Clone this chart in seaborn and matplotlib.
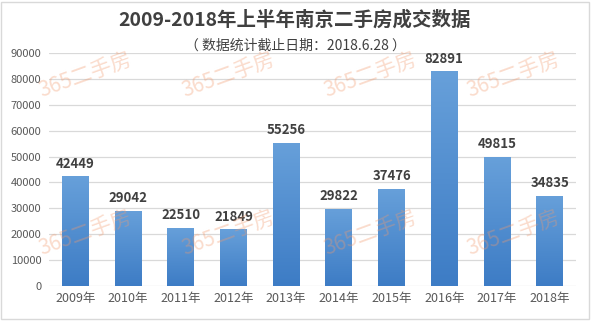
import numpy as np
import matplotlib
matplotlib.use("Agg")
import matplotlib.pyplot as plt
from matplotlib.patches import Rectangle
from matplotlib.colors import LinearSegmentedColormap
import seaborn as sns

# Data
years = ["2009年", "2010年", "2011年", "2012年", "2013年",
         "2014年", "2015年", "2016年", "2017年", "2018年"]
deals = [42449, 29042, 22510, 21849, 55256, 29822, 37476, 82891, 49815, 34835]
yticks = [0, 10000, 20000, 30000, 40000, 50000, 60000, 70000, 80000, 90000]

title = "2009-2018年上半年南京二手房成交数据"
subtitle = "（ 数据统计截止日期：2018.6.28 ）"
watermark = "365二手房"

sns.set_theme(style="white")
plt.rcParams["font.family"] = ["Noto Sans CJK SC", "DejaVu Sans"]

W, H = 591, 336
fig = plt.figure(figsize=(W / 100, H / 100), dpi=100)
fig.patch.set_facecolor("white")


def px(x, y):
    return x / W, 1 - y / H


# Plot area
left, right, top, bottom = 49, 576, 53, 286
ax = fig.add_axes([left / W, 1 - bottom / H, (right - left) / W, (bottom - top) / H])
ax.set_facecolor("none")

sns.barplot(x=years, y=deals, color="#4f8fd3", width=0.51, ax=ax, zorder=3)

ax.set_ylim(0, 90000)
ax.set_yticks(yticks)
ax.set_yticklabels([str(v) for v in yticks])
ax.set_xlim(-0.5, len(years) - 0.5)
for s in ax.spines.values():
    s.set_visible(False)
ax.yaxis.grid(True, color="#d9d9d9", lw=0.9, zorder=0)
ax.set_axisbelow(True)
ax.tick_params(axis="both", length=0, colors="#595959")
ax.tick_params(axis="y", labelsize=8, pad=5.5)
ax.tick_params(axis="x", labelsize=9, pad=4)
ax.set_xlabel("")
ax.set_ylabel("")

# Vertical gradient fill for each bar
cmap = LinearSegmentedColormap.from_list("barblue", ["#3d7cc5", "#67a0da"])
grad = np.linspace(0, 1, 256).reshape(-1, 1)
for patch in ax.patches:
    x0, y0 = patch.get_x(), patch.get_y()
    w, h = patch.get_width(), patch.get_height()
    im = ax.imshow(grad, cmap=cmap, aspect="auto", origin="lower",
                   extent=[x0, x0 + w, y0, y0 + h], zorder=3)
    im.set_clip_path(patch)
    patch.set_facecolor("none")
    patch.set_edgecolor("none")
ax.set_xlim(-0.5, len(years) - 0.5)
ax.set_ylim(0, 90000)

# Value labels
ax.bar_label(ax.containers[0], labels=[str(v) for v in deals], padding=4,
             fontsize=9.5, fontweight="bold", color="#404040", zorder=5)

# Titles
fig.text(*px(295, 20), title, ha="center", va="center", fontsize=14,
         fontweight="bold", color="#404040")
fig.text(*px(295, 46), subtitle, ha="center", va="center", fontsize=10,
         color="#404040")

# Watermarks
for cx in [85, 228, 370, 513]:
    for cy in [75, 233]:
        fig.text(*px(cx, cy), watermark, ha="center", va="center", fontsize=15,
                 rotation=20, color="#f29a6e", alpha=0.35, zorder=10)

# Outer frame
fig.add_artist(Rectangle(px(1.5, 318.5), (588.5 - 1.5) / W, (318.5 - 1.5) / H,
                         transform=fig.transFigure, fill=False,
                         edgecolor="#d9d9d9", lw=1))

fig.savefig("out.png", dpi=100, facecolor="white")
